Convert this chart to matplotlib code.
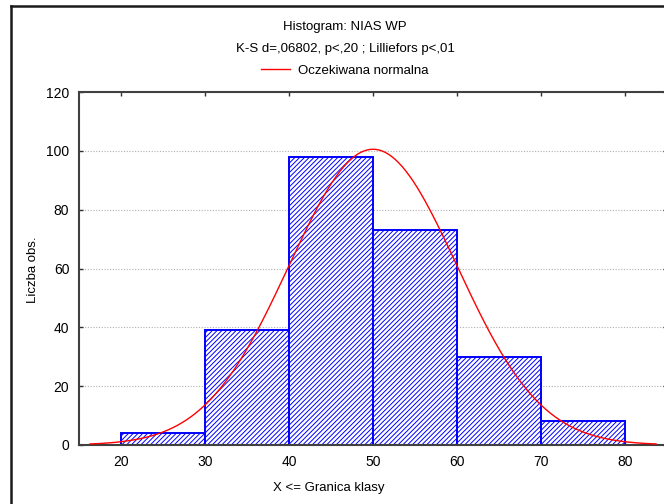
import numpy as np
import matplotlib
matplotlib.use('Agg')
from matplotlib import pyplot as plt
from matplotlib.lines import Line2D

# dane histogramu
granice = [20, 30, 40, 50, 60, 70, 80]
liczebnosci = [4, 39, 98, 73, 30, 8]
y_ticks = [0, 20, 40, 60, 80, 100, 120]
x_ticks = [20, 30, 40, 50, 60, 70, 80]

# parametry krzywej normalnej
srednia = 50.0
odch_std = 10.0
n_obs = sum(liczebnosci)
szer_klasy = 10
x_od, x_do = 16.3, 83.7

plt.rcParams['font.family'] = ['Liberation Sans', 'DejaVu Sans']
plt.rcParams['hatch.color'] = '#0000ff'
plt.rcParams['hatch.linewidth'] = 0.7

W, H = 664, 504
fig = plt.figure(figsize=(W / 100, H / 100), dpi=100)

# ramka okna (lewa i gorna krawedz)
fig.add_artist(Line2D([11 / W, 11 / W], [0, 1 - 6 / H], transform=fig.transFigure,
                      color='#1a1a1a', lw=1.8))
fig.add_artist(Line2D([11 / W, 1], [1 - 6 / H, 1 - 6 / H], transform=fig.transFigure,
                      color='#1a1a1a', lw=1.8))

lewo, prawo, gora, dol = 79, 667, 92, 445
ax = fig.add_axes([lewo / W, 1 - dol / H, (prawo - lewo) / W, (dol - gora) / H])

szer = np.diff(granice)
ax.bar(granice[:-1], liczebnosci, width=szer, align='edge', color='white',
       edgecolor='#0000ff', linewidth=1.4, hatch='///////', zorder=2)

xs = np.linspace(x_od, x_do, 300)
ys = n_obs * szer_klasy / (odch_std * np.sqrt(2 * np.pi)) * np.exp(-0.5 * ((xs - srednia) / odch_std) ** 2)
ax.plot(xs, ys, color='#ff0000', lw=1.0, zorder=3)

ax.set_xlim(15, 85)
ax.set_ylim(0, 120)
ax.set_xticks(x_ticks)
ax.set_yticks(y_ticks)
ax.tick_params(direction='in', length=3, width=1, color='#303030', labelsize=10,
               top=True, right=True, pad=7)
ax.yaxis.grid(True, linestyle=(0, (1, 1.5)), color='#b0b0b0', lw=0.8, zorder=0)
ax.set_axisbelow(True)
for s in ax.spines.values():
    s.set_color('#404040')
    s.set_linewidth(1.5)

fig.text(33 / W, 1 - 270 / H, 'Liczba obs.', rotation=90, ha='center', va='center', fontsize=9.5)
fig.text(329 / W, 1 - 488 / H, 'X <= Granica klasy', ha='center', va='center', fontsize=9.5)
fig.text(345 / W, 1 - 27 / H, 'Histogram: NIAS WP', ha='center', va='center', fontsize=9.5)
fig.text(345 / W, 1 - 49 / H, 'K-S d=,06802, p<,20 ; Lilliefors p<,01', ha='center', va='center',
         fontsize=9.5)
fig.legend([Line2D([], [], color='#ff0000', lw=1.0)], ['Oczekiwana normalna'],
           loc='center', bbox_to_anchor=(345 / W, 1 - 71 / H), frameon=False,
           fontsize=9.5, handlelength=2.2, handletextpad=0.6, borderpad=0)

fig.savefig('out.png', dpi=100)
